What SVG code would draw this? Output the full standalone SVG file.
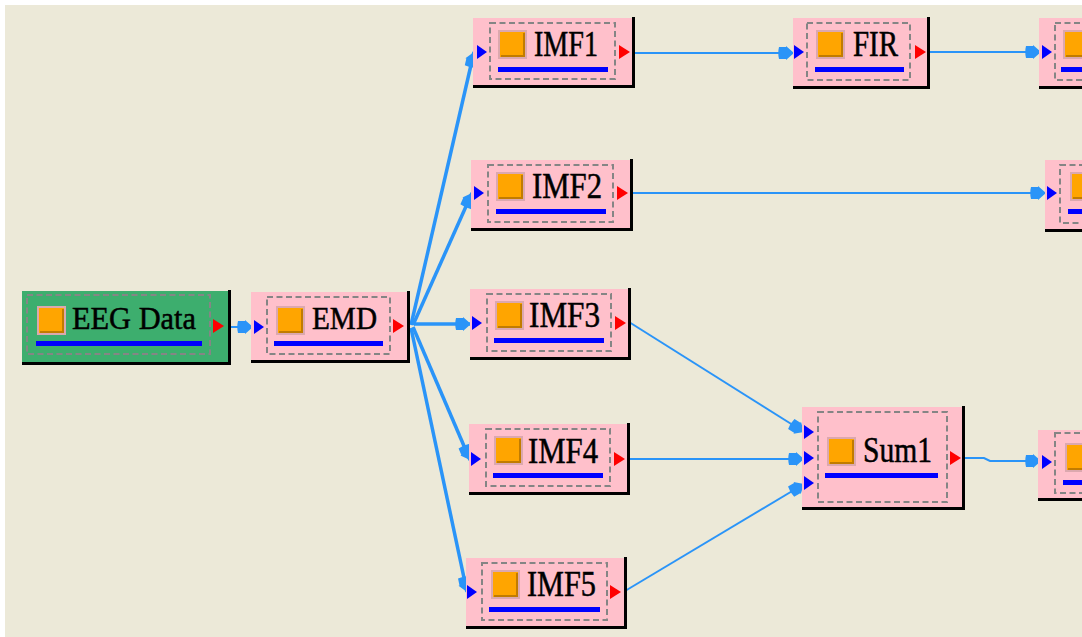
<svg xmlns="http://www.w3.org/2000/svg" width="1082" height="637" viewBox="0 0 1082 637">
  <style>
    .pink { fill: #FFC0CB; }
    .green { fill: #3DAE6E; }
    .edge { fill: none; stroke: #000; stroke-width: 3; }
    .frame { fill: none; stroke: #858585; stroke-width: 2; stroke-dasharray: 6 3.5; }
    .bar { fill: #0000FF; }
    .label { font-family: "Liberation Serif", "Times New Roman", serif; fill: #000; stroke: #000; stroke-width: 0.5; }
    .wire { fill: none; stroke: #2A94F8; stroke-width: 2; marker-end: url(#head); }
    .wire.thick { stroke-width: 3.5; }
  </style>
  <defs>
    <marker id="head" markerUnits="userSpaceOnUse" markerWidth="18" markerHeight="18" refX="16" refY="9" orient="auto" viewBox="0 0 18 18">
      <path d="M1,3 L8,3 L8,2 L16,9 L8,16 L8,15 L1,15 Q-0.5,9 1,3 Z" fill="#2A94F8"/>
    </marker>
    <!-- orange module icon with its frame -->
    <g id="icon">
      <rect x="0" y="0" width="29" height="29" fill="#DCA8AE"/>
      <rect x="2" y="2" width="25" height="25" fill="#FFA500"/>
      <path d="M26,3 V26 H3" fill="none" stroke="#C27C00" stroke-width="2"/>
    </g>
    <path id="port-in" d="M0,-7 L10,0 L0,7 Z" fill="#0000FF"/>
    <path id="port-out" d="M0,-7 L11,0 L0,7 Z" fill="#FF0000"/>
  </defs>

  <!-- canvas -->
  <rect x="0" y="0" width="1082" height="637" fill="#FFFFFF"/>
  <rect x="5" y="5" width="1077" height="632" fill="#ECE9D8"/>

  <!-- connectors -->
  <g id="connectors">
    <path class="wire" d="M225,327 H253"/>
    <path class="wire thick" d="M411,325 L474,52"/>
    <path class="wire thick" d="M413,325 L472,193"/>
    <path class="wire thick" d="M414,324 H471"/>
    <path class="wire thick" d="M413,327 L470,460"/>
    <path class="wire thick" d="M411,328 L467,592"/>
    <path class="wire" d="M632,53 H794"/>
    <path class="wire" d="M929,52 H1041"/>
    <path class="wire" d="M632,193 H1046"/>
    <path class="wire" d="M629,322 L804,432"/>
    <path class="wire" d="M627,459 H804"/>
    <path class="wire" d="M625,591 L804,484"/>
    <path class="wire" d="M964,458 H984 L990,461 H1041"/>
  </g>

  <!-- source node -->
  <g id="eeg-data" transform="translate(22,291)">
    <rect class="green" x="0" y="0" width="206" height="71"/>
    <path class="edge" d="M0,72.5 H207.5 V-1"/>
    <rect class="frame" x="5" y="4" width="183" height="59"/>
    <use href="#icon" x="15" y="15"/>
    <text class="label" x="50" y="38" font-size="32" textLength="124" lengthAdjust="spacingAndGlyphs">EEG Data</text>
    <rect class="bar" x="14" y="50" width="166" height="5"/>
    <use href="#port-out" x="191" y="35"/>
  </g>

  <g id="emd" transform="translate(251,292)">
    <rect class="pink" x="0" y="0" width="156" height="68"/>
    <path class="edge" d="M0,69.5 H157.5 V-1"/>
    <rect class="frame" x="16" y="5" width="123" height="57"/>
    <use href="#icon" x="25" y="14"/>
    <text class="label" x="61" y="37" font-size="32" textLength="65" lengthAdjust="spacingAndGlyphs">EMD</text>
    <rect class="bar" x="23" y="49" width="109" height="5"/>
    <use href="#port-in" x="3" y="35"/>
    <use href="#port-out" x="142" y="34"/>
  </g>

  <g id="imf1" transform="translate(473,18)">
    <rect class="pink" x="0" y="0" width="159" height="67"/>
    <path class="edge" d="M0,68.5 H160.5 V-1"/>
    <rect class="frame" x="17" y="5" width="125" height="56"/>
    <use href="#icon" x="25" y="12"/>
    <text class="label" x="61" y="38" font-size="35" textLength="64" lengthAdjust="spacingAndGlyphs">IMF1</text>
    <rect class="bar" x="25" y="49" width="110" height="5"/>
    <use href="#port-in" x="4" y="34"/>
    <use href="#port-out" x="146" y="34"/>
  </g>

  <g id="imf2" transform="translate(471,160)">
    <rect class="pink" x="0" y="0" width="159" height="68"/>
    <path class="edge" d="M0,69.5 H160.5 V-1"/>
    <rect class="frame" x="17" y="5" width="125" height="57"/>
    <use href="#icon" x="25" y="12"/>
    <text class="label" x="61" y="38" font-size="35" textLength="70" lengthAdjust="spacingAndGlyphs">IMF2</text>
    <rect class="bar" x="25" y="49" width="110" height="5"/>
    <use href="#port-in" x="3" y="33"/>
    <use href="#port-out" x="146" y="33"/>
  </g>

  <g id="imf3" transform="translate(470,289)">
    <rect class="pink" x="0" y="0" width="158" height="68"/>
    <path class="edge" d="M0,69.5 H159.5 V-1"/>
    <rect class="frame" x="17" y="5" width="124" height="57"/>
    <use href="#icon" x="25" y="12"/>
    <text class="label" x="59" y="38" font-size="35" textLength="71" lengthAdjust="spacingAndGlyphs">IMF3</text>
    <rect class="bar" x="24" y="49" width="110" height="5"/>
    <use href="#port-in" x="2" y="34"/>
    <use href="#port-out" x="145" y="34"/>
  </g>

  <g id="imf4" transform="translate(469,424)">
    <rect class="pink" x="0" y="0" width="158" height="68"/>
    <path class="edge" d="M0,69.5 H159.5 V-1"/>
    <rect class="frame" x="17" y="5" width="124" height="57"/>
    <use href="#icon" x="25" y="12"/>
    <text class="label" x="59" y="39" font-size="35" textLength="70" lengthAdjust="spacingAndGlyphs">IMF4</text>
    <rect class="bar" x="24" y="49" width="110" height="5"/>
    <use href="#port-in" x="2" y="35"/>
    <use href="#port-out" x="145" y="35"/>
  </g>

  <g id="imf5" transform="translate(466,558)">
    <rect class="pink" x="0" y="0" width="158" height="68"/>
    <path class="edge" d="M0,69.5 H159.5 V-1"/>
    <rect class="frame" x="16" y="5" width="125" height="57"/>
    <use href="#icon" x="25" y="12"/>
    <text class="label" x="61" y="38" font-size="35" textLength="69" lengthAdjust="spacingAndGlyphs">IMF5</text>
    <rect class="bar" x="23" y="49" width="111" height="5"/>
    <use href="#port-in" x="1" y="34"/>
    <use href="#port-out" x="144" y="34"/>
  </g>

  <g id="fir" transform="translate(793,18)">
    <rect class="pink" x="0" y="0" width="134" height="68"/>
    <path class="edge" d="M0,69.5 H135.5 V-1"/>
    <rect class="frame" x="14" y="5" width="103" height="57"/>
    <use href="#icon" x="23" y="12"/>
    <text class="label" x="60" y="38" font-size="35" textLength="45" lengthAdjust="spacingAndGlyphs">FIR</text>
    <rect class="bar" x="22" y="49" width="89" height="5"/>
    <use href="#port-in" x="1" y="34"/>
    <use href="#port-out" x="122" y="34"/>
  </g>

  <g id="sum1" transform="translate(802,407)">
    <rect class="pink" x="0" y="0" width="160" height="100"/>
    <path class="edge" d="M0,101.5 H161.5 V-1"/>
    <rect class="frame" x="16" y="5" width="129" height="90"/>
    <use href="#icon" x="25" y="30"/>
    <text class="label" x="61" y="55" font-size="35" textLength="69" lengthAdjust="spacingAndGlyphs">Sum1</text>
    <rect class="bar" x="23" y="66" width="113" height="5"/>
    <use href="#port-in" x="2" y="25"/>
    <use href="#port-in" x="2" y="51"/>
    <use href="#port-in" x="2" y="76"/>
    <use href="#port-out" x="148" y="51"/>
  </g>

  <!-- modules continuing past the right edge -->
  <g id="next-fir" transform="translate(1039,18)">
    <rect class="pink" x="0" y="0" width="80" height="68"/>
    <path class="edge" d="M0,69.5 H80"/>
    <rect class="frame" x="16" y="5" width="80" height="57"/>
    <use href="#icon" x="24" y="12"/>
    <rect class="bar" x="22" y="49" width="80" height="5"/>
    <use href="#port-in" x="3" y="34"/>
  </g>

  <g id="next-imf2" transform="translate(1045,160)">
    <rect class="pink" x="0" y="0" width="80" height="69"/>
    <path class="edge" d="M0,70.5 H80"/>
    <rect class="frame" x="15" y="5" width="80" height="58"/>
    <use href="#icon" x="25" y="12"/>
    <rect class="bar" x="23" y="49" width="80" height="5"/>
    <use href="#port-in" x="2" y="33"/>
  </g>

  <g id="next-sum" transform="translate(1038,430)">
    <rect class="pink" x="0" y="0" width="80" height="68"/>
    <path class="edge" d="M0,69.5 H80"/>
    <rect class="frame" x="17" y="3" width="80" height="60"/>
    <use href="#icon" x="27" y="13"/>
    <rect class="bar" x="25" y="50" width="80" height="5"/>
    <use href="#port-in" x="4" y="32"/>
  </g>
</svg>
